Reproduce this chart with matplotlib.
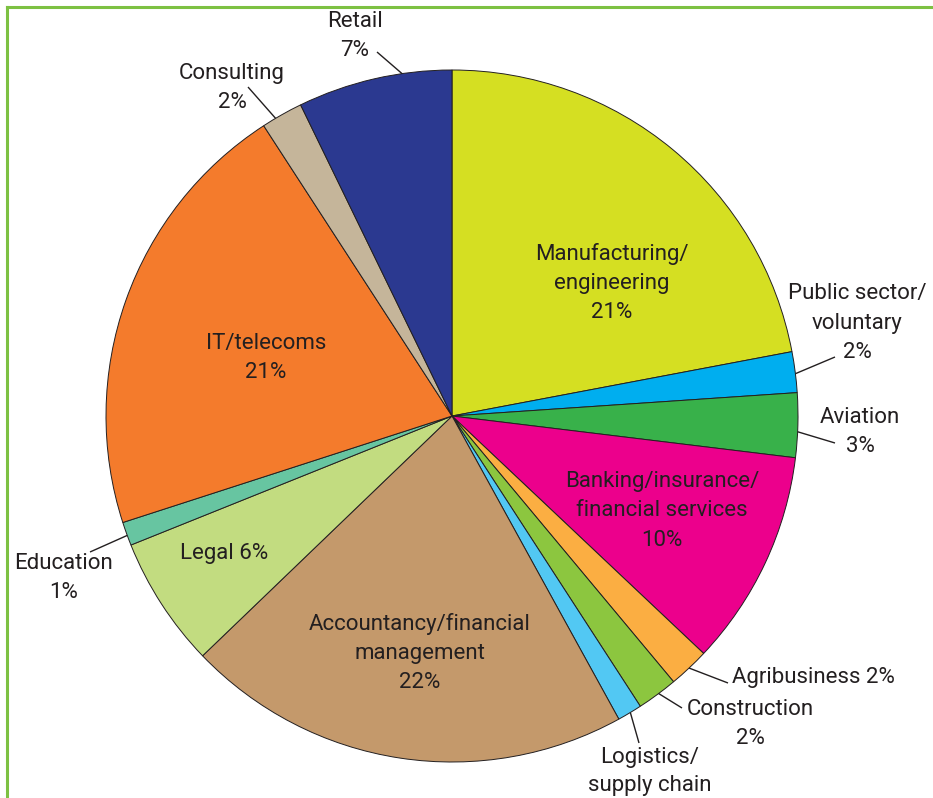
import matplotlib.pyplot as plt
import numpy as np

plt.rcParams['font.family'] = ['Roboto', 'DejaVu Sans']

W, H = 933, 798

# sectors clockwise from 12 o'clock, shares
sectors = ["Manufacturing/\nengineering", "Public sector/\nvoluntary", "Aviation",
           "Banking/insurance/\nfinancial services", "Agribusiness", "Construction",
           "Logistics/\nsupply chain", "Accountancy/financial\nmanagement", "Legal",
           "Education", "IT/telecoms", "Consulting", "Retail"]
shares = [22.0, 1.9, 3.0, 10.1, 1.9, 1.9, 1.15, 20.8, 6.1, 1.1, 20.8, 1.95, 7.2]
pct_labels = ["21%", "2%", "3%", "10%", "2%", "2%", "1%", "22%", "6%", "1%", "21%", "2%", "7%"]
colors = ["#d5df22", "#00aeef", "#38b14a", "#ec008c", "#fbae42", "#8cc63f", "#52c8f3",
          "#c4996b", "#c2dc80", "#67c5a1", "#f47b2c", "#c5b59a", "#2b3990"]
# separator between name and percentage
seps = ["\n", "\n", "\n", "\n", " ", "\n", "\n", "\n", " ", "\n", "\n", "\n", "\n"]

# layout (pixels from top-left)
cx, cy, R = 452, 416, 346
label_pos = [(612, 283), (857, 323), (860, 432), (662, 511), (813, 677), (750, 724),
             (650, 786), (420, 653), (224, 553), (64, 578), (266, 358), (232, 88), (355, 36)]
# leader lines: outer end and fraction along the wedge for the inner end (None = no line)
leader_end = [None, (835, 357), (835, 443), None, (728, 683), (682, 708), (639, 743),
              None, None, (90, 552), None, (248, 87), (377, 52)]
leader_frac = [0, 0.54, 0.6, 0, 0.5, 0.46, 0.47, 0, 0, 0.43, 0, 0.33, 0.68]

ink = "#231f20"

fig = plt.figure(figsize=(W / 100, H / 100), dpi=100)
ax = fig.add_axes([0, 0, 1, 1])

ax.pie(shares, colors=colors, startangle=90, counterclock=False,
       center=(cx, H - cy), radius=R, frame=True,
       wedgeprops=dict(edgecolor=ink, linewidth=0.7))

ax.set_xlim(0, W)
ax.set_ylim(0, H)
ax.set_aspect('equal')
ax.axis('off')

total = sum(shares)
start = 90.0
for i, s in enumerate(shares):
    span = s / total * 360
    x, y = label_pos[i]
    ax.text(x, H - y, sectors[i] + seps[i] + pct_labels[i], ha='center', va='center',
            fontsize=16, color=ink, linespacing=1.5)
    if leader_end[i] is not None:
        a = np.radians(start - leader_frac[i] * span)
        ex, ey = leader_end[i]
        ax.plot([ex, cx + R * np.cos(a)], [H - ey, H - cy + R * np.sin(a)],
                color=ink, lw=1.0, solid_capstyle='butt')
    start -= span

# green frame on top and left
green = "#7dc142"
fig.add_artist(plt.Line2D([7 / W, 1], [1 - 7 / H, 1 - 7 / H], color=green, lw=2.2))
fig.add_artist(plt.Line2D([7 / W, 7 / W], [0, 1 - 7 / H], color=green, lw=2.2))

fig.savefig("out.png", dpi=100)
